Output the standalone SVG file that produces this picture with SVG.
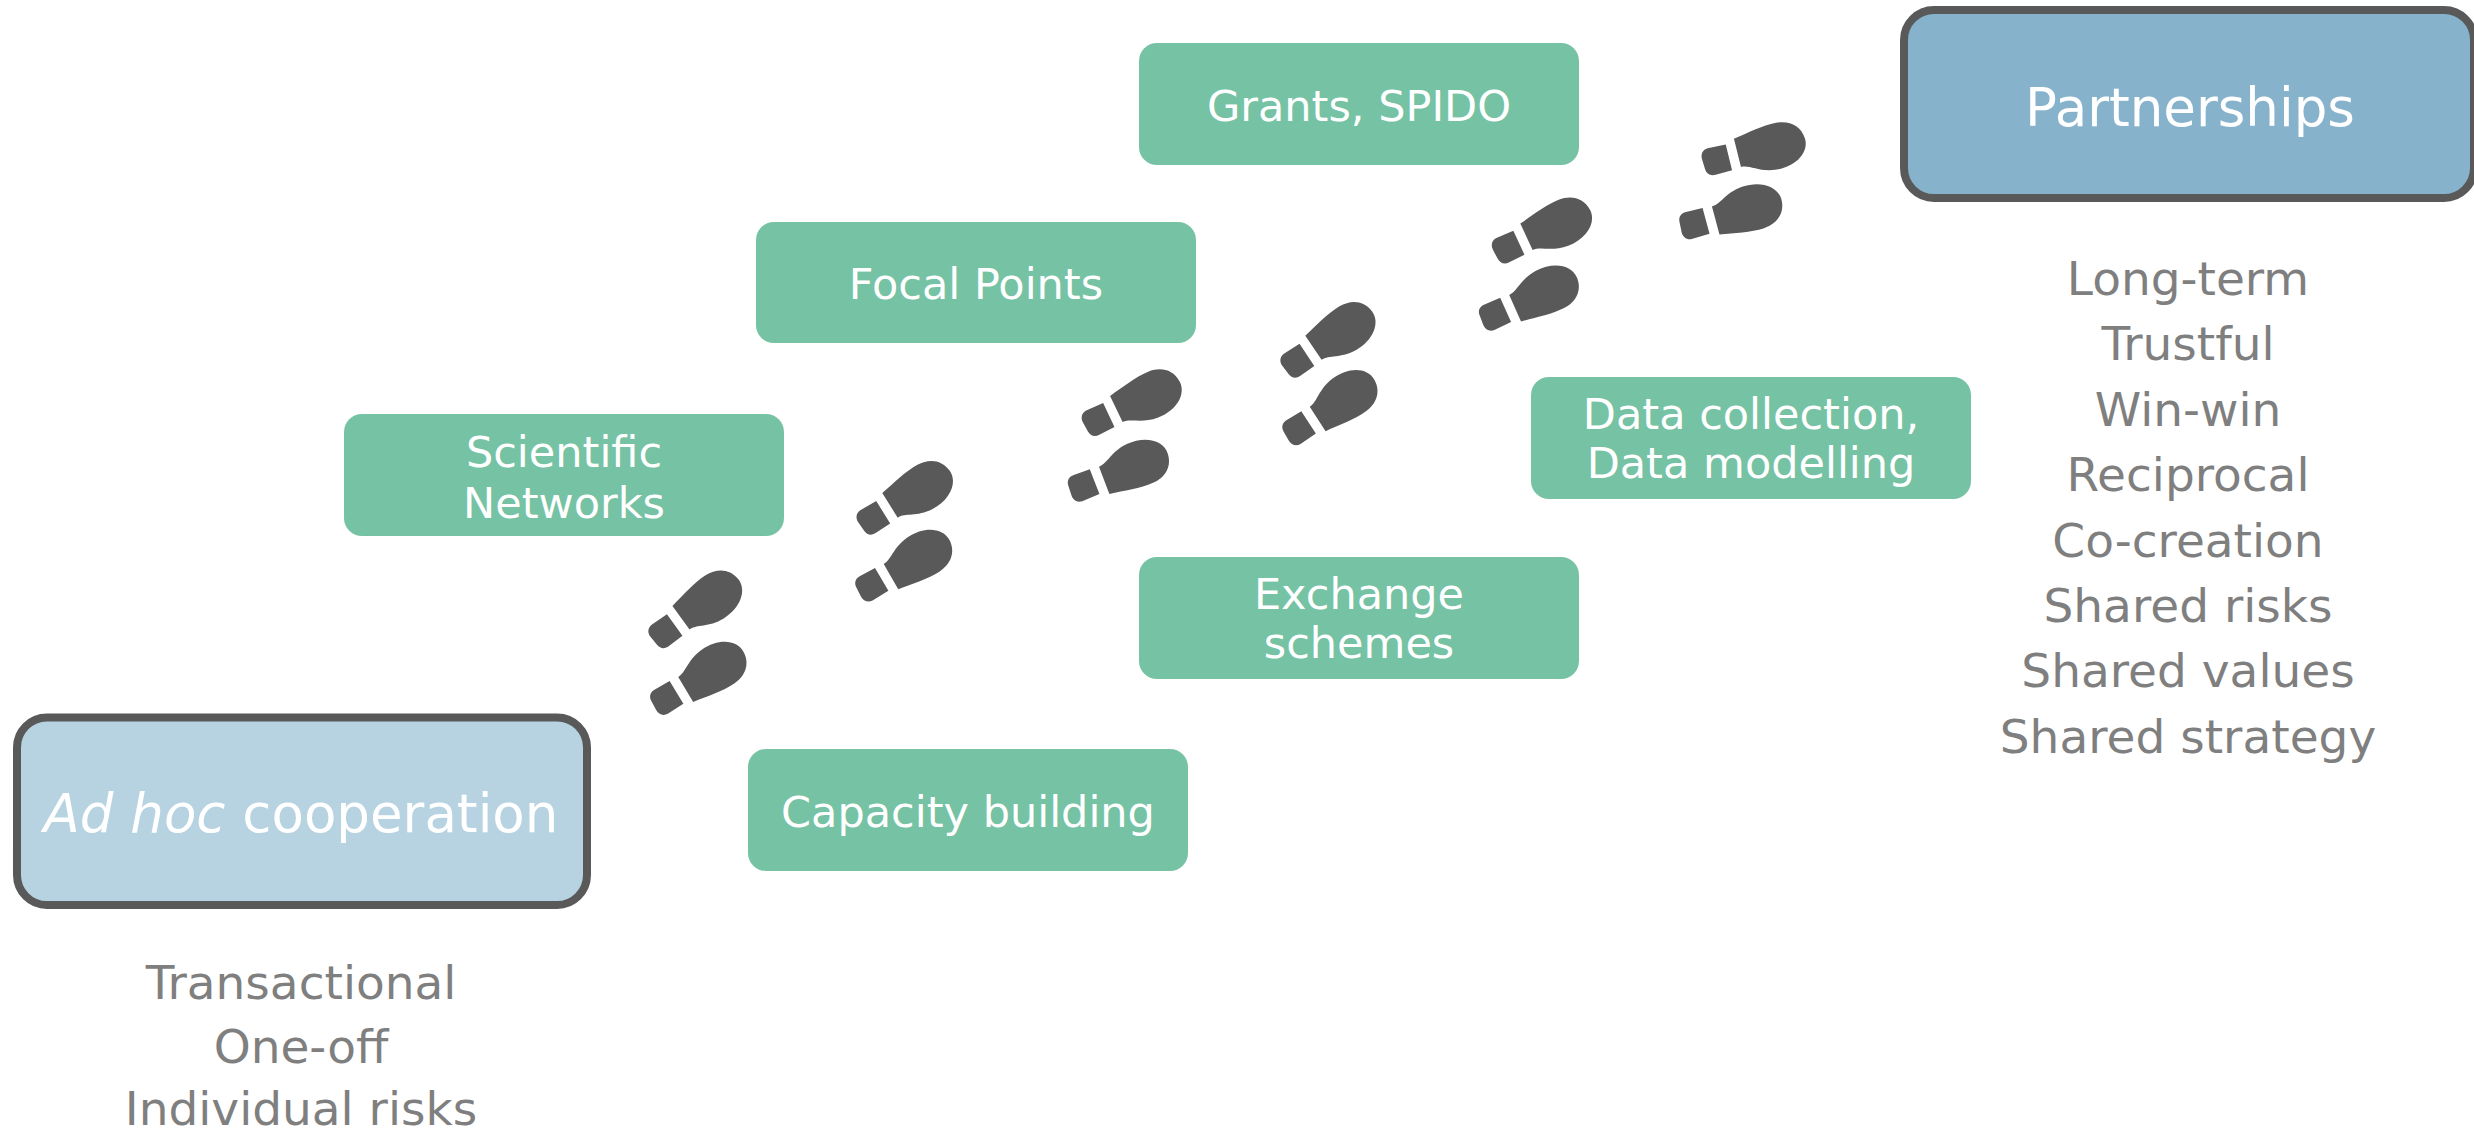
<svg xmlns="http://www.w3.org/2000/svg" xmlns:xlink="http://www.w3.org/1999/xlink" width="2474" height="1135" viewBox="0 0 2474 1135">
  <style>
    .step { fill: #76c2a4; }
    .lbl { fill: #ffffff; font-family: "DejaVu Sans", Verdana, sans-serif; font-size: 43px; text-anchor: middle; }
    .big { fill: #ffffff; font-family: "DejaVu Sans", Verdana, sans-serif; font-size: 53px; text-anchor: middle; }
    .end { stroke: #595959; stroke-width: 8; }
    .gray { fill: #7f7f7f; font-family: "DejaVu Sans", Verdana, sans-serif; font-size: 47px; text-anchor: middle; }
    .foot { fill: #595959; }
  </style>
  <defs>
    <g id="footR" class="foot">
      <path d="M7,-13.5 L24,-14 L25.5,12.5 L7,14 C2,14 -1.5,10.5 -1.5,5 L-1.5,-5 C-1.5,-10.5 2,-13.5 7,-13.5 Z"/>
      <path d="M33.5,-13.5 C43,-14 49,-24 67,-26.5 C87,-29 103,-19 103,-5 C103,9 93,17 80,18.5 C66,20 50,17 35,15.5 Z"/>
    </g>
  </defs>
  <rect width="2474" height="1135" fill="#ffffff"/>

  <g id="footsteps">
    <use xlink:href="#footR" transform="translate(655,640) rotate(-39) scale(1,-1)"/>
    <use xlink:href="#footR" transform="translate(655,704.7) rotate(-28)"/>
    <use xlink:href="#footR" transform="translate(862.5,525.8) rotate(-35) scale(1,-1)"/>
    <use xlink:href="#footR" transform="translate(860,591.3) rotate(-27)"/>
    <use xlink:href="#footR" transform="translate(1086.7,426.2) rotate(-28.5) scale(1,-1)"/>
    <use xlink:href="#footR" transform="translate(1071.3,490) rotate(-18)"/>
    <use xlink:href="#footR" transform="translate(1286.7,369.2) rotate(-37) scale(1,-1)"/>
    <use xlink:href="#footR" transform="translate(1287.5,435.3) rotate(-30)"/>
    <use xlink:href="#footR" transform="translate(1496.7,253.7) rotate(-28) scale(1,-1)"/>
    <use xlink:href="#footR" transform="translate(1482.8,319.5) rotate(-21)"/>
    <use xlink:href="#footR" transform="translate(1705,163.8) rotate(-17) scale(1,-1)"/>
    <use xlink:href="#footR" transform="translate(1682,226.7) rotate(-12)"/>
  </g>

  <g id="connectors"/>

  <g id="adhoc">
    <rect class="end" x="17" y="717.5" width="570" height="187.5" rx="30" fill="#b7d3e1"/>
    <text class="big" x="301" y="832"><tspan font-style="italic">Ad hoc</tspan> cooperation</text>
    <text class="gray" x="301" y="999">Transactional</text>
    <text class="gray" x="301" y="1063">One-off</text>
    <text class="gray" x="301" y="1125">Individual risks</text>
  </g>

  <g id="partnerships">
    <rect class="end" x="1904" y="10" width="570" height="188" rx="30" fill="#86b2cc"/>
    <text class="big" x="2190" y="126">Partnerships</text>
    <text class="gray" x="2188" y="295">Long-term</text>
    <text class="gray" x="2188" y="360.4">Trustful</text>
    <text class="gray" x="2188" y="425.8">Win-win</text>
    <text class="gray" x="2188" y="491.2">Reciprocal</text>
    <text class="gray" x="2188" y="556.6">Co-creation</text>
    <text class="gray" x="2188" y="622">Shared risks</text>
    <text class="gray" x="2188" y="687.4">Shared values</text>
    <text class="gray" x="2188" y="752.8">Shared strategy</text>
  </g>

  <g id="capacity">
    <rect class="step" x="748" y="749" width="440" height="122" rx="18"/>
    <text class="lbl" x="968" y="827">Capacity building</text>
  </g>

  <g id="scientific">
    <rect class="step" x="344" y="414" width="440" height="122" rx="18"/>
    <text class="lbl" x="564" y="466.7">Scientific</text>
    <text class="lbl" x="564" y="517.7">Networks</text>
  </g>

  <g id="focal">
    <rect class="step" x="756" y="222" width="440" height="121" rx="18"/>
    <text class="lbl" x="976" y="299.3">Focal Points</text>
  </g>

  <g id="exchange">
    <rect class="step" x="1139" y="557" width="440" height="122" rx="18"/>
    <text class="lbl" x="1359" y="609">Exchange</text>
    <text class="lbl" x="1359" y="658.3">schemes</text>
  </g>

  <g id="grants">
    <rect class="step" x="1139" y="43" width="440" height="122" rx="18"/>
    <text class="lbl" x="1359" y="121">Grants, SPIDO</text>
  </g>

  <g id="datacollection">
    <rect class="step" x="1531" y="377" width="440" height="122" rx="18"/>
    <text class="lbl" x="1751" y="429">Data collection,</text>
    <text class="lbl" x="1751" y="478.3">Data modelling</text>
  </g>
</svg>
